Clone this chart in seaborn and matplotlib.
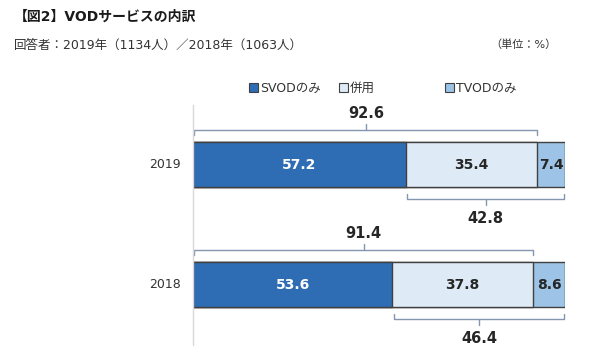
import matplotlib
matplotlib.use("Agg")
import matplotlib.pyplot as plt
import seaborn as sns
import pandas as pd
import numpy as np
from matplotlib.patches import Patch

years = ["2019", "2018"]
series = ["SVODのみ", "併用", "TVODのみ"]
svod = [57.2, 53.6]
both = [35.4, 37.8]
tvod = [7.4, 8.6]
top_totals = [92.6, 91.4]
bottom_totals = [42.8, 46.4]
colors = ["#2E6DB4", "#DEEAF6", "#9DC3E6"]

sns.set_theme(style="white")
JP = ["DejaVu Sans", "Noto Sans CJK JP"]
plt.rcParams["font.family"] = JP

fig = plt.figure(figsize=(6, 3.6), dpi=100)
ax = fig.add_axes([193 / 600, 1 - 345 / 360, 372 / 600, 240 / 360])

df = pd.DataFrame({"year": years, "svod": svod, "both": both, "tvod": tvod})
df["c1"] = df["svod"]
df["c2"] = df["svod"] + df["both"]
df["c3"] = df["c2"] + df["tvod"]

bh = 0.375
for col, c in [("c3", colors[2]), ("c2", colors[1]), ("c1", colors[0])]:
    sns.barplot(data=df, y="year", x=col, orient="h", color=c, width=bh,
                edgecolor="#404040", linewidth=1.0, ax=ax, saturation=1)

ax.set_xlim(0, 100)
ax.set_ylim(1.504, -0.496)
ax.set_xlabel("")
ax.set_ylabel("")
ax.set_xticks([])
ax.set_yticks([])
for s in ["top", "right", "bottom"]:
    ax.spines[s].set_visible(False)
ax.spines["left"].set_color("#D9D9D9")
ax.spines["left"].set_linewidth(1)

# year labels
for i, y in enumerate(years):
    ax.text(-0.075, i, y, transform=ax.get_yaxis_transform(), ha="center",
            va="center", fontsize=9, color="#333333")

# value labels
for i in range(len(years)):
    segs = [svod[i], both[i], tvod[i]]
    start = 0
    for j, v in enumerate(segs):
        ax.text(start + v / 2, i, f"{v:.1f}", ha="center", va="center",
                fontsize=10, fontweight="bold",
                color="white" if j == 0 else "#262626")
        start += v

bc = "#8497B0"
half = bh / 2
for i in range(len(years)):
    # top bracket
    x0, x1 = 0.4, top_totals[i]
    yh = i - half - 0.1
    ax.plot([x0, x0, x1, x1], [yh + 0.045, yh, yh, yh + 0.045], color=bc, lw=1, clip_on=False)
    xm = (x0 + x1) / 2
    ax.plot([xm, xm], [yh, yh - 0.05], color=bc, lw=1, clip_on=False)
    ax.text(xm, yh - 0.14, f"{top_totals[i]:.1f}", ha="center", va="center",
            fontsize=10.5, fontweight="bold", color="#262626")
    # bottom bracket
    x0, x1 = svod[i] + 0.4, 100 - 0.2
    yb = i + half + 0.1
    ax.plot([x0, x0, x1, x1], [yb - 0.045, yb, yb, yb - 0.045], color=bc, lw=1, clip_on=False)
    xm = (x0 + x1) / 2
    ax.plot([xm, xm], [yb, yb + 0.05], color=bc, lw=1, clip_on=False)
    ax.text(xm, yb + 0.16, f"{bottom_totals[i]:.1f}", ha="center", va="center",
            fontsize=10.5, fontweight="bold", color="#262626")

# legend: three separately placed entries
leg_x = [249 / 600, 339 / 600, 445 / 600]
for c, lab, lx in zip(colors, series, leg_x):
    h = Patch(facecolor=c, edgecolor="#404040", linewidth=0.8)
    leg = fig.legend([h], [lab], loc="center left", bbox_to_anchor=(lx, 1 - 88 / 360),
                     frameon=False, fontsize=9, handlelength=0.7, handleheight=0.7,
                     handletextpad=0.2, borderaxespad=0, borderpad=0)
    for t in leg.get_texts():
        t.set_color("#333333")

fig.text(14 / 600, 1 - 17 / 360, "【図2】VODサービスの内訳", ha="left", va="center",
         fontsize=10, fontweight="bold", color="#1a1a1a")
fig.text(14 / 600, 1 - 45 / 360, "回答者：2019年（1134人）／2018年（1063人）", ha="left",
         va="center", fontsize=9, color="#333333")
fig.text(490 / 600, 1 - 45 / 360, "（単位：%）", ha="left", va="center",
         fontsize=8, color="#333333")

fig.savefig("out.png", dpi=100, facecolor="white")
